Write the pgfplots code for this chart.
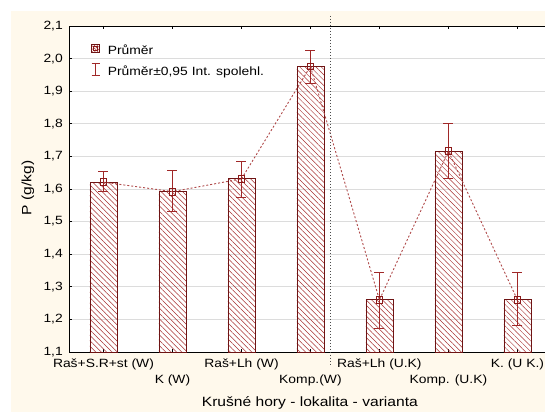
\documentclass[border=0pt]{standalone}
\usepackage{fontspec}
\setmainfont{Liberation Sans}[FakeStretch=1.16]
\usepackage{pgfplots}
\pgfplotsset{compat=1.18}
\usetikzlibrary{patterns.meta}
\definecolor{cream}{HTML}{FFF9EC}
\definecolor{barred}{HTML}{6E1414}
\definecolor{hatch}{HTML}{A83232}
\definecolor{markred}{HTML}{8B1A1A}
\definecolor{errred}{HTML}{A02828}
\definecolor{linered}{HTML}{B04A4A}
\definecolor{gridgray}{HTML}{DCDCDC}
\begin{document}
\begin{tikzpicture}
\useasboundingbox (0,0) rectangle (545bp,412bp);
\fill[cream] (11bp,0) rectangle (545bp,401bp);
\begin{axis}[
  at={(69bp,60bp)}, anchor=south west,
  scale only axis, width=476bp, height=326bp,
  xmin=0.5, xmax=7.4, ymin=1.1, ymax=2.1,
  axis x line*=box, axis y line*=left,
  axis line style={black, line width=0.8bp},
  axis background/.style={fill=white},
  clip=false,
  ytick={1.1,1.2,...,2.11},
  ymajorgrids, grid style={gridgray, line width=0.8bp},
  major tick length=3bp,
  tick style={black, line width=0.6bp},
  xtick={1,...,7},
  xticklabels={{\strut Raš+S.R+st (W)},{\strut\\K (W)},{\strut Raš+Lh (W)},{\strut\\Komp.(W)},{\strut Raš+Lh (U.K)},{\strut\\Komp. (U.K)},{\strut K. (U K.)}},
  xticklabel style={align=center, anchor=north, inner sep=0pt, yshift=-3.8bp, font=\fontsize{12}{16}\selectfont},
  yticklabel style={font=\fontsize{12}{14}\selectfont, inner sep=0pt, xshift=-6bp, anchor=east,
    /pgf/number format/.cd, fixed, fixed zerofill, precision=1, use comma, assume math mode=true},
  xlabel={Krušné hory - lokalita - varianta},
  xlabel style={at={(axis description cs:0.506,-0.1687)}, anchor=base, inner sep=0pt, font=\fontsize{13.5}{16}\selectfont},
  ylabel={P (g/kg)},
  ylabel style={at={(axis description cs:-0.0788,0.503)}, anchor=base, rotate=0, inner sep=0pt, font=\fontsize{13.5}{16}\selectfont},
  legend style={at={(axis description cs:0,1)}, anchor=north west, xshift=22bp, yshift=-18bp,
    draw=none, fill=none, inner sep=0pt, row sep=5bp, font=\fontsize{12}{14}\selectfont,
    nodes={inner sep=0pt, text height=9bp, text depth=3bp}},
  legend cell align=left,
]
\addplot[ybar, bar width=27bp, draw=barred, line width=0.8bp,
  pattern={Lines[angle=-45, distance=3.8bp, line width=0.5bp]}, pattern color=hatch,
  forget plot]
  coordinates {(1,1.621) (2,1.592) (3,1.631) (4,1.976) (5,1.260) (6,1.716) (7,1.260)};
\addplot[draw=linered, line width=0.9bp, dash pattern=on 2bp off 2bp,
  mark=square, mark size=3.3bp, mark options={solid, draw=markred, fill=none, line width=0.8bp}, forget plot]
  coordinates {(1,1.621) (2,1.592) (3,1.631) (4,1.976) (5,1.260) (6,1.716) (7,1.260)};
\addplot[draw=none, mark=none, forget plot,
  error bars/.cd, y dir=both, y explicit,
  error bar style={errred, line width=0.9bp},
  error mark options={rotate=90, mark size=5bp, errred, line width=0.9bp}]
  coordinates {
  (1,1.621) += (0,0.033) -= (0,0.029)
  (2,1.592) += (0,0.064) -= (0,0.061)
  (3,1.631) += (0,0.054) -= (0,0.058)
  (4,1.976) += (0,0.050) -= (0,0.053)
  (5,1.260) += (0,0.085) -= (0,0.089)
  (6,1.716) += (0,0.084) -= (0,0.083)
  (7,1.260) += (0,0.083) -= (0,0.079)
  };
\addlegendimage{legend image code/.code={
  \draw[draw=barred, line width=0.7bp, pattern={Lines[angle=-45, distance=2bp, line width=0.5bp]}, pattern color=hatch] (0bp,-0.5bp) rectangle (8bp,7.5bp);
  \draw[markred, line width=0.7bp] (2bp,1.5bp) rectangle (6bp,5.5bp);
  \path (16bp,0bp);}}
\addlegendentry{Průměr}
\addlegendimage{legend image code/.code={
  \draw[errred, line width=0.9bp] (4bp,-3bp) -- (4bp,9bp);
  \draw[errred, line width=0.9bp] (0bp,9bp) -- (8bp,9bp);
  \draw[errred, line width=0.9bp] (0bp,-3bp) -- (8bp,-3bp);
  \path (16bp,0bp);}}
\addlegendentry{Průměr±0,95 Int. spolehl.}
\draw[black!70, line width=0.9bp, dash pattern=on 1.5bp off 1.5bp] (axis cs:4.283,2.1307) -- (axis cs:4.283,1.060);
\end{axis}
\end{tikzpicture}
\end{document}
